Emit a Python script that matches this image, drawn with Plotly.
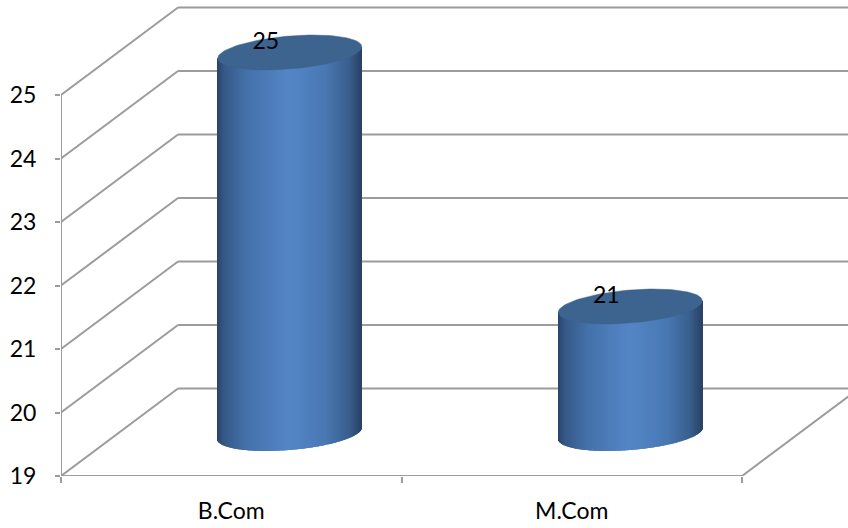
import numpy as np
import plotly.graph_objects as go

categories = ["B.Com", "M.Com"]
values = [25, 21]
y_ticks = [19, 20, 21, 22, 23, 24, 25]

W, H = 848, 528
ML, MB = 61, 52
PX_X = 340.5   # px per category
PX_Y = 63.5    # px per value unit
FLOOR = y_ticks[0]
DX, DY = 117 / PX_X, 87.5 / PX_Y      # depth of the box in data units
XR = [0, (W - ML) / PX_X]
YR = [FLOOR, FLOOR + (H - MB) / PX_Y]
HALF_W = 72 / PX_X
ELL_B = 16.5 / PX_Y
ELL_S = 5.75 / PX_Y
MID_Y = 42.5 / PX_Y
GRID = "#9c9c9c"
FONT = "Lato"
FS = 23

STOPS = [(0.0, (41, 68, 106)), (0.05, (54, 90, 136)), (0.2, (68, 113, 170)),
         (0.5, (84, 134, 199)), (0.75, (73, 121, 180)), (0.92, (57, 94, 140)), (1.0, (42, 66, 100))]


def colour(f):
    xs = [s[0] for s in STOPS]
    return "rgb(%d,%d,%d)" % tuple(np.interp(f, xs, [s[1][i] for s in STOPS]) for i in range(3))


fig = go.Figure()

shapes = []


def line(x0, y0, x1, y1):
    shapes.append(dict(type="line", xref="x", yref="y", x0=x0, y0=y0, x1=x1, y1=y1, layer="below",
                       line=dict(color=GRID, width=2)))


for t in y_ticks:
    line(0, t, DX, t + DY)
    line(DX, t + DY, XR[1] + 0.1, t + DY)
line(0, FLOOR, 0, y_ticks[-1])
line(0, FLOOR, len(categories), FLOOR)
line(len(categories), FLOOR, len(categories) + DX, FLOOR + DY)

N = 144
for i, (cat, val) in enumerate(zip(categories, values)):
    cx = i + 0.5 + DX / 2
    u = (np.arange(N) + 0.5) / N * 2 - 1
    bottom = FLOOR + MID_Y + ELL_S * u - ELL_B * np.sqrt(1 - u ** 2)
    top = val + MID_Y + ELL_S * u
    fig.add_trace(go.Bar(x=cx + u * HALF_W, y=top - bottom, base=bottom,
                         width=2 * HALF_W / N * 1.15,
                         marker=dict(color=[colour((v + 1) / 2) for v in u], line=dict(width=0)),
                         hoverinfo="skip", showlegend=False))
    t = np.linspace(0, 2 * np.pi, 121)
    fig.add_trace(go.Scatter(x=cx + HALF_W * np.cos(t),
                             y=val + MID_Y + ELL_S * np.cos(t) + ELL_B * np.sin(t),
                             mode="lines", fill="toself", fillcolor="#3d638f",
                             line=dict(color="#3d638f", width=0.5),
                             hoverinfo="skip", showlegend=False))
    fig.add_trace(go.Scatter(x=[cx - 24 / PX_X], y=[val + MID_Y + 9 / PX_Y], text=[str(val)],
                             mode="text", textposition="middle center",
                             textfont=dict(family=FONT, size=FS, color="#000000"),
                             hoverinfo="skip", showlegend=False))

fig.update_layout(
    width=W, height=H, margin=dict(l=ML, r=0, t=0, b=MB, pad=0),
    paper_bgcolor="white", plot_bgcolor="white", barmode="overlay", showlegend=False,
    shapes=shapes,
    xaxis=dict(range=XR, tickmode="array", tickvals=[0.5, 1.5], ticktext=categories,
               ticks="", showgrid=False, zeroline=False, showline=False,
               tickfont=dict(family=FONT, size=FS, color="#000000"), ticklabelstandoff=19,
               minor=dict(tickmode="array", tickvals=[0, 1, 2], ticks="outside", ticklen=6,
                          tickwidth=1.5, tickcolor=GRID, showgrid=False)),
    yaxis=dict(range=YR, tickmode="array", tickvals=y_ticks, ticktext=[str(v) for v in y_ticks],
               ticks="outside", ticklen=5, tickwidth=2, tickcolor=GRID, showgrid=False,
               zeroline=False, showline=False, ticklabelstandoff=14,
               tickfont=dict(family=FONT, size=FS, color="#000000")),
)
fig.write_html("out.html", config={"displayModeBar": False},
               post_script="document.body.style.margin='0';document.body.style.overflow='hidden';")
